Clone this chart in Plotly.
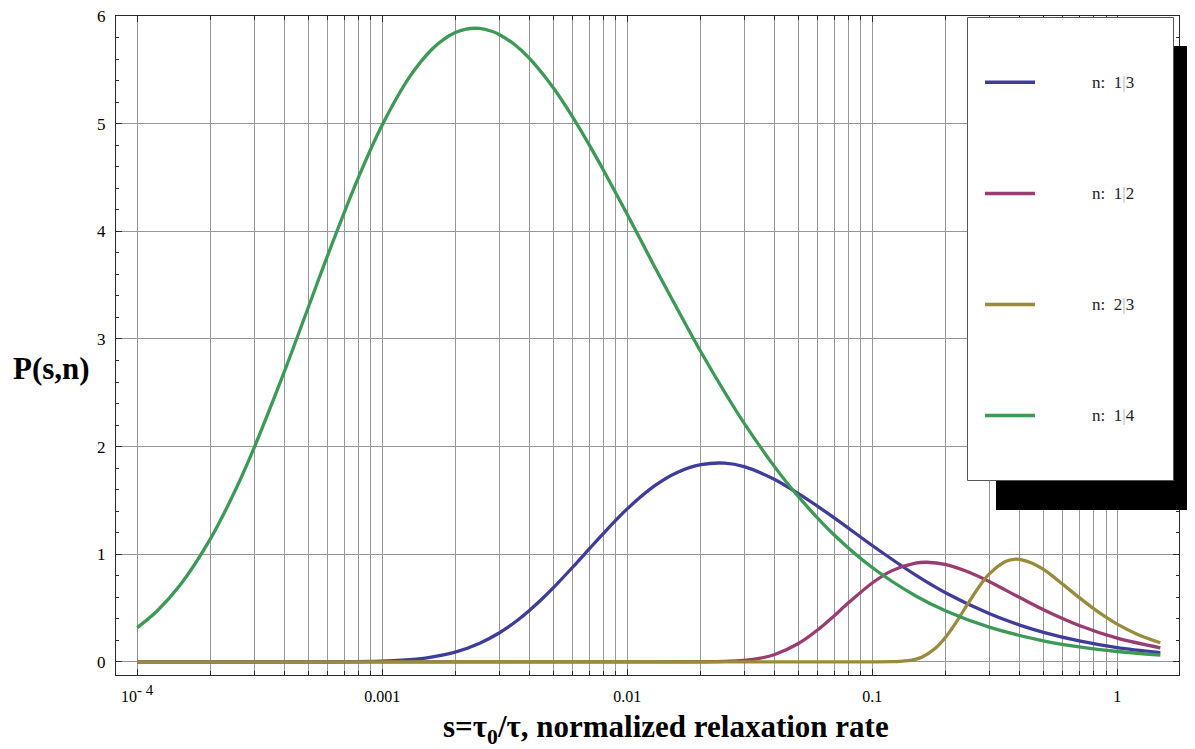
import plotly.graph_objects as go

# ---------------- data ----------------
series_names = ["n: 1/3", "n: 1/2", "n: 2/3", "n: 1/4"]
series_colors = ["#3f3d99", "#993d71", "#998b3d", "#3d9956"]

s_n13 = [1e-4, 3e-4, 6e-4, 0.001, 0.0012, 0.0015, 0.002, 0.0025, 0.003, 0.0035,
         0.004, 0.0045, 0.005, 0.006, 0.007, 0.008, 0.01, 0.013, 0.016, 0.02,
         0.025, 0.03, 0.04, 0.05, 0.07, 0.1, 0.15, 0.2, 0.3, 0.4, 0.5, 0.7, 1.0, 1.5]
p_n13 = [0.0, 0.0, 0.0003, 0.0062, 0.0143, 0.0348, 0.0919, 0.1725, 0.268, 0.3726,
         0.480, 0.5859, 0.689, 0.881, 1.049, 1.194, 1.421, 1.639, 1.760, 1.832,
         1.846, 1.814, 1.694, 1.562, 1.338, 1.081, 0.808, 0.640, 0.448, 0.341,
         0.274, 0.194, 0.132, 0.0842]

s_n12 = [1e-4, 0.003, 0.01, 0.02, 0.025, 0.03, 0.035, 0.04, 0.05, 0.06, 0.07,
         0.08, 0.1, 0.12, 0.15, 0.1667, 0.2, 0.25, 0.3, 0.4, 0.5, 0.7, 1.0, 1.5]
p_n12 = [0.0, 0.0, 0.0, 0.0004, 0.0032, 0.0131, 0.0341, 0.0681, 0.1700, 0.2976,
         0.4284, 0.5478, 0.7322, 0.8450, 0.9172, 0.9251, 0.9036, 0.8302, 0.7461,
         0.5969, 0.4839, 0.3370, 0.2197, 0.1300]

s_n23 = [1e-4, 0.01, 0.1, 0.12, 0.13, 0.14, 0.15, 0.16, 0.18, 0.2, 0.22, 0.25,
         0.28, 0.3, 0.35, 0.385, 0.4, 0.45, 0.5, 0.6, 0.7, 0.85, 1.0, 1.2, 1.5]
p_n23 = [0.0, 0.0, 0.0, 0.0009, 0.0035, 0.0100, 0.0232, 0.0452, 0.1205, 0.2327,
         0.3662, 0.5668, 0.7321, 0.8147, 0.932, 0.954, 0.952, 0.916, 0.8579,
         0.7200, 0.5962, 0.4520, 0.3506, 0.2594, 0.1767]

s_n14 = [1e-4, 1.2e-4, 1.5e-4, 2e-4, 2.5e-4, 3e-4, 4e-4, 5e-4, 6e-4, 8e-4,
         1e-3, 1.3e-3, 1.6e-3, 1.8e-3, 2e-3, 2.2e-3, 2.5e-3, 2.8e-3, 3e-3, 3.5e-3,
         4e-3, 5e-3, 6e-3, 7e-3, 8e-3, 0.01, 0.013, 0.016, 0.02, 0.025,
         0.03, 0.04, 0.05, 0.07, 0.1, 0.15, 0.2, 0.3, 0.5, 0.7, 1.0, 1.5]
p_n14 = [0.3177, 0.4677, 0.7156, 1.1518, 1.5822, 1.9884, 2.7053, 3.2971, 3.7812, 4.5015,
         4.9883, 5.4427, 5.6948, 5.7920, 5.8506, 5.8802, 5.8856, 5.8596, 5.8301, 5.7291,
         5.6044, 5.3318, 5.0600, 4.8041, 4.5685, 4.1584, 3.6625, 3.281, 2.8786, 2.505,
         2.2181, 1.8116, 1.5343, 1.1781, 0.8759, 0.6141, 0.4724, 0.3221, 0.1950, 0.1387,
         0.0958, 0.0624]

x_major = [1e-4, 1e-3, 1e-2, 1e-1, 1]
x_ticktext = ["10<sup><span style='font-size:15px'>- 4</span></sup>",
              "0.001", "0.01", "0.1", "1"]
x_minor = [m * d for d in [1e-4, 1e-3, 1e-2, 1e-1] for m in range(2, 10)]
y_major = [0, 1, 2, 3, 4, 5, 6]
y_minor = [i / 5 for i in range(0, 31) if i % 5]

legend_labels = ["n:  1<span style='color:#b0b0b0'>|</span>3",
                 "n:  1<span style='color:#b0b0b0'>|</span>2",
                 "n:  2<span style='color:#b0b0b0'>|</span>3",
                 "n:  1<span style='color:#b0b0b0'>|</span>4"]

# ---------------- figure geometry ----------------
SERIF = "Liberation Serif"
GRID = "#979797"
FRAME = "#2a2a2a"
OFF = 8                      # default page body margin
W, H = 1195 - OFF, 749 - OFF
PX0, PX1, PY0, PY1 = 116, 1179, 16, 675   # plot area in page pixels
ML, MT = PX0 - OFF, PY0 - OFF
MR, MB = W - ML - (PX1 - PX0), H - MT - (PY1 - PY0)
PW, PH = PX1 - PX0, PY1 - PY0


def px_x(x):
    return (x - PX0) / PW


def px_y(y):
    return (PY1 - y) / PH


fig = go.Figure()
for s, p, c, nm in zip([s_n13, s_n12, s_n23, s_n14],
                       [p_n13, p_n12, p_n23, p_n14],
                       series_colors, series_names):
    fig.add_trace(go.Scatter(x=s, y=p, mode="lines", name=nm,
                             line=dict(color=c, width=3.3, shape="spline", smoothing=0.9),
                             showlegend=False, hoverinfo="skip"))

fig.update_layout(
    width=W, height=H,
    margin=dict(l=ML, r=MR, t=MT, b=MB, autoexpand=False),
    paper_bgcolor="white", plot_bgcolor="white",
    showlegend=False,
    font=dict(family=SERIF, color="black"),
)

fig.update_xaxes(
    type="log", range=[-4.0865, 0.2522], automargin=False,
    tickmode="array", tickvals=x_major, ticktext=x_ticktext,
    ticks="inside", ticklen=6, tickwidth=1, tickcolor=FRAME,
    showline=True, linecolor=FRAME, linewidth=1, mirror="allticks",
    showgrid=True, gridcolor=GRID, gridwidth=1, zeroline=False,
    tickfont=dict(family=SERIF, size=16, color="black"),
    ticklabelstandoff=7, ticklabeloverflow="allow",
    minor=dict(tickmode="array", tickvals=x_minor, ticks="inside", ticklen=4,
               tickwidth=1, tickcolor=FRAME, showgrid=True, gridcolor=GRID, gridwidth=1),
)
fig.update_yaxes(
    range=[-0.1226, 6.0015], automargin=False,
    tickmode="array", tickvals=y_major,
    ticks="inside", ticklen=6, tickwidth=1, tickcolor=FRAME,
    showline=True, linecolor=FRAME, linewidth=1, mirror="allticks",
    showgrid=True, gridcolor=GRID, gridwidth=1, zeroline=False,
    tickfont=dict(family=SERIF, size=17, color="black"),
    ticklabelstandoff=6, ticklabeloverflow="allow",
    minor=dict(tickmode="array", tickvals=y_minor, ticks="inside", ticklen=3,
               tickwidth=1, tickcolor=FRAME, showgrid=False),
)

# axis titles
fig.add_annotation(text="<b>s=τ<sub>0</sub>/τ, normalized relaxation rate</b>",
                   xref="paper", yref="paper", x=px_x(666), y=px_y(729),
                   xanchor="center", yanchor="middle", showarrow=False,
                   font=dict(family=SERIF, size=31, color="black"))
fig.add_annotation(text="<b>P(s,n)</b>",
                   xref="paper", yref="paper", x=px_x(51), y=px_y(368),
                   xanchor="center", yanchor="middle", showarrow=False,
                   font=dict(family=SERIF, size=31, color="black"))

# legend: shadow, box, samples, labels
shapes = [
    dict(type="rect", xref="paper", yref="paper", layer="above",
         x0=px_x(996), x1=px_x(1205), y0=px_y(510), y1=px_y(46),
         fillcolor="black", line=dict(width=0)),
    dict(type="rect", xref="paper", yref="paper", layer="above",
         x0=px_x(967.5), x1=px_x(1173.5), y0=px_y(480.5), y1=px_y(17.5),
         fillcolor="white", line=dict(color="#555555", width=1)),
]
legend_top, legend_step = 82.3, 111.1
for i, (c, lab) in enumerate(zip(series_colors, legend_labels)):
    yy = px_y(legend_top + i * legend_step)
    shapes.append(dict(type="line", xref="paper", yref="paper", layer="above",
                       x0=px_x(985), x1=px_x(1035), y0=yy, y1=yy,
                       line=dict(color=c, width=3.5)))
    fig.add_annotation(text=lab, xref="paper", yref="paper",
                       x=px_x(1090), y=yy, xanchor="left", yanchor="middle",
                       showarrow=False,
                       font=dict(family=SERIF, size=17, color="#222222"))
fig.update_layout(shapes=shapes)

fig.write_html("out.html")
